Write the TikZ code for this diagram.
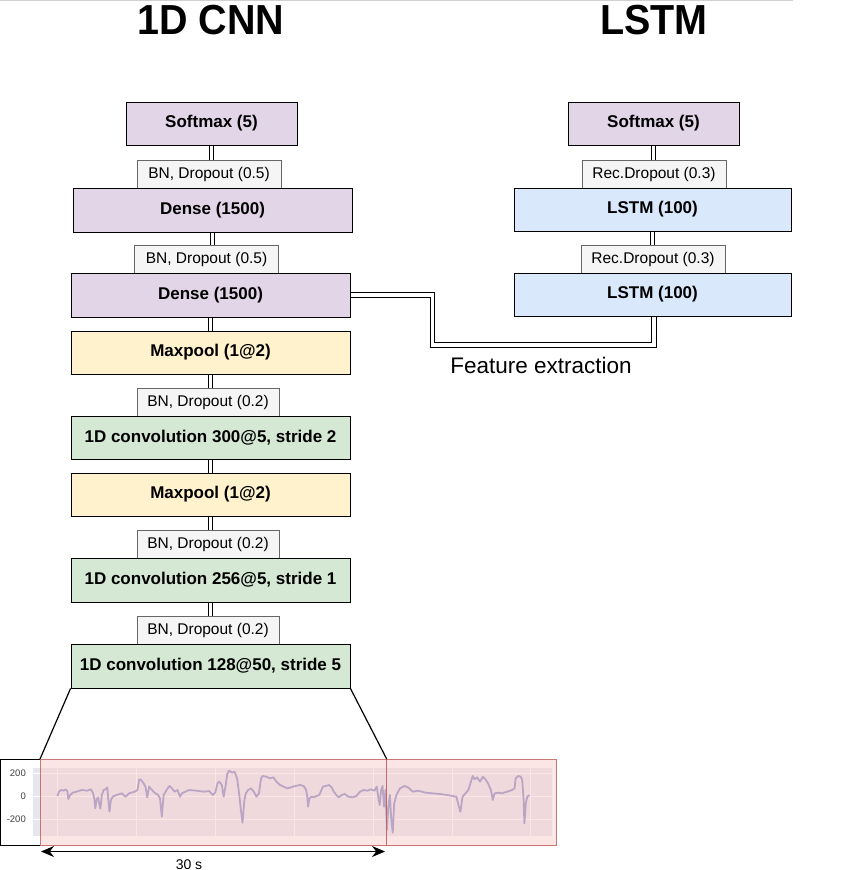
\documentclass[tikz,border=0pt]{standalone}
\usepackage{fontspec}
\setmainfont{Liberation Sans}
\usetikzlibrary{arrows.meta}
\definecolor{purp}{HTML}{E1D5E7}
\definecolor{yel}{HTML}{FFF2CC}
\definecolor{grn}{HTML}{D5E8D4}
\definecolor{blu}{HTML}{DAE8FC}
\definecolor{lblfill}{HTML}{F5F5F5}
\definecolor{lbldraw}{HTML}{666666}
\definecolor{pinkfill}{HTML}{F8CECC}
\definecolor{pinkdraw}{HTML}{C0605C}
\definecolor{panel}{HTML}{E6E6EE}
\definecolor{trace}{HTML}{7D7DBE}
\definecolor{topline}{HTML}{D0D0D0}
\pgfdeclarelayer{bg}
\pgfsetlayers{bg,main}
\begin{document}
\begin{tikzpicture}[x=1pt,y=-1pt,
  mainbox/.style={draw=black, line width=0.8pt, inner sep=0pt, font=\fontsize{17}{19}\selectfont\bfseries, align=center},
  lblbox/.style={draw=lbldraw, fill=lblfill, line width=0.8pt, inner sep=0pt, minimum width=144pt, minimum height=28pt, font=\fontsize{15.5}{17}\selectfont},
  titletext/.style={inner sep=0pt, font=\fontsize{42}{46}\selectfont\bfseries},
  dbl/.style={draw=black, double=white, line width=0.8pt, double distance=3.5pt},
  pinkwin/.style={draw=pinkdraw, draw opacity=0.85, line width=1.2pt, fill=pinkfill, fill opacity=0.5, inner sep=0pt, minimum height=86pt},
]
\useasboundingbox (0,0) rectangle (858,870);
\draw[topline, line width=1pt] (0,0.5) -- (793,0.5);

% titles
\node[titletext] (t1) at (211,20) {\scalebox{0.94}[1]{1D CNN}};
\node[titletext] (t2) at (654,20) {\scalebox{0.94}[1]{LSTM}};

% left column
\node[mainbox, fill=purp, minimum width=171pt, minimum height=43pt] (sm) at (211.5,123.5) {Softmax (5)};
\node[lblbox] (bn1) at (209,174) {BN, Dropout (0.5)};
\node[mainbox, fill=purp, minimum width=279pt, minimum height=44pt] (d1) at (212.5,210) {Dense (1500)};
\node[lblbox] (bn2) at (206.5,259) {BN, Dropout (0.5)};
\node[mainbox, fill=purp, minimum width=279pt, minimum height=44pt] (d2) at (210.5,295) {Dense (1500)};
\node[mainbox, fill=yel, minimum width=279pt, minimum height=43pt] (mp1) at (210.5,352.5) {Maxpool (1@2)};
\node[lblbox, minimum width=142pt] (bn3) at (208,402) {BN, Dropout (0.2)};
\node[mainbox, fill=grn, minimum width=279pt, minimum height=43pt] (c3) at (210.5,437.5) {1D convolution 300@5, stride 2};
\node[mainbox, fill=yel, minimum width=279pt, minimum height=43pt] (mp2) at (210.5,494.5) {Maxpool (1@2)};
\node[lblbox, minimum width=142pt] (bn4) at (208,544) {BN, Dropout (0.2)};
\node[mainbox, fill=grn, minimum width=279pt, minimum height=44pt] (c2) at (210.5,580) {1D convolution 256@5, stride 1};
\node[lblbox, minimum width=142pt] (bn5) at (208,630) {BN, Dropout (0.2)};
\node[mainbox, fill=grn, minimum width=279pt, minimum height=44pt] (c1) at (210.5,666) {1D convolution 128@50, stride 5};

% right column
\node[mainbox, fill=purp, minimum width=171pt, minimum height=43pt] (sm2) at (653.5,123.5) {Softmax (5)};
\node[lblbox] (rd1) at (654,174) {Rec.Dropout (0.3)};
\node[mainbox, fill=blu, minimum width=277pt, minimum height=43pt] (l1) at (652.5,209.5) {LSTM (100)};
\node[lblbox] (rd2) at (653,259) {Rec.Dropout (0.3)};
\node[mainbox, fill=blu, minimum width=277pt, minimum height=43pt] (l2) at (652.5,294.5) {LSTM (100)};

\coordinate (fa) at (432.5,345);
\node[inner sep=0pt, font=\fontsize{22.5}{24}\selectfont] (fe) at (541,365) {Feature extraction};

\begin{pgfonlayer}{bg}
\draw[dbl] (sm.south) -- (sm.south |- bn1.north);
\draw[dbl] (d1.south) -- (d1.south |- bn2.north);
\draw[dbl] (d2.south) -- (d2.south |- mp1.north);
\draw[dbl] (mp1.south) -- (mp1.south |- bn3.north);
\draw[dbl] (c3.south) -- (c3.south |- mp2.north);
\draw[dbl] (mp2.south) -- (mp2.south |- bn4.north);
\draw[dbl] (c2.south) -- (c2.south |- bn5.north);
\draw[dbl] (sm2.south) -- (sm2.south |- rd1.north);
\draw[dbl] (l1.south) -- (l1.south |- rd2.north);
\draw[dbl] (d2.east) -| (fa) -| ([xshift=1.5pt]l2.south);
\end{pgfonlayer}

% signal plot
\fill[panel] (33,768) rectangle (552,836);
\foreach \gy in {773,796,819} \draw[white, line width=0.8pt] (33,\gy) -- (552,\gy);
\foreach \gx in {57,136,215,294,373,452,530} \draw[white, line width=0.8pt] (\gx,768) -- (\gx,836);
\foreach \gy/\lab in {773/200,796/0,819/-200}
  \node[anchor=east, inner sep=0pt, text=black!75, font=\fontsize{9.5}{10}\selectfont] (tick\lab) at (26,\gy) {\lab};
\begin{scope}[xshift=0pt, yshift=-680pt, x={(0.36364pt,0pt)}, y={(0pt,-0.33333pt)}]
\draw[trace, line width=1.8pt, line join=round] plot coordinates {
(158,348) (162,335) (168,330) (175,332) (180,328) (185,333) (188,357) (193,345) (200,338) (210,335) (225,330) (240,332) (250,328) (256,340) (260,360) (262,385) (266,358) (270,352) (273,372) (276,386) (280,345) (285,330) (290,328) (295,322) (298,360) (301,395) (305,360) (310,350) (320,345) (335,340) (345,350) (355,340) (370,335) (378,330) (383,298) (388,300) (395,310) (400,320) (405,352) (410,320) (418,330) (425,338) (435,345) (440,355) (445,410) (450,345) (458,330) (466,318) (473,325) (480,335) (488,330) (495,350) (500,340) (510,335) (520,330) (540,332) (560,335) (575,333) (585,345) (592,338) (598,310) (603,305) (610,315) (615,350) (620,320) (625,282) (630,272) (638,278) (645,275) (652,295) (658,345) (663,395) (667,428) (672,360) (676,340) (682,330) (690,325) (698,335) (705,350) (712,340) (718,295) (722,288) (732,290) (742,295) (752,292) (760,305) (770,315) (780,320) (790,325) (800,322) (812,318) (825,315) (835,318) (842,330) (845,350) (847,380) (851,355) (856,350) (862,352) (870,348) (878,345) (884,330) (888,320) (895,318) (905,315) (912,322) (918,335) (925,345) (932,352) (940,345) (948,342) (958,350) (970,352) (980,348) (990,335) (1000,330) (1010,332) (1020,328) (1030,332) (1036,320) (1040,350) (1044,375) (1048,330) (1052,318) (1056,380) (1060,330) (1064,450) (1068,380) (1072,345) (1076,420) (1080,458) (1084,370) (1090,345) (1100,325) (1112,318) (1122,322) (1135,335) (1150,332) (1170,338) (1190,340) (1210,342) (1230,345) (1245,348) (1255,350) (1262,380) (1266,395) (1272,350) (1280,340) (1288,330) (1295,305) (1300,288) (1305,298) (1312,292) (1320,305) (1328,290) (1335,298) (1342,310) (1350,330) (1355,360) (1360,340) (1370,338) (1380,340) (1395,335) (1408,330) (1415,325) (1418,295) (1425,288) (1432,290) (1436,300) (1440,360) (1442,430) (1446,370) (1450,350) (1456,345)};
\end{scope}
\draw[black, line width=1pt] (40,759) -- (0.5,759) -- (0.5,845) -- (40,845);
\node[pinkwin, minimum width=345.5pt, anchor=north west] (w1) at (40,759) {};
\node[pinkwin, minimum width=170.5pt, anchor=north west] (w2) at (385.5,759) {};

\draw[black, line width=1.2pt] (c1.south west) -- (w1.north west);
\draw[black, line width=1.2pt] (c1.south east) -- (w1.north east);

\coordinate (al) at (41,851.5);
\coordinate (ar) at (385,851.5);
\draw[black, line width=1pt, {Stealth[length=13pt,width=11pt]}-{Stealth[length=13pt,width=11pt]}] (al) -- (ar);
\node[inner sep=0pt, font=\fontsize{14}{16}\selectfont] (ts) at (189,865) {30 s};
\end{tikzpicture}
\end{document}
